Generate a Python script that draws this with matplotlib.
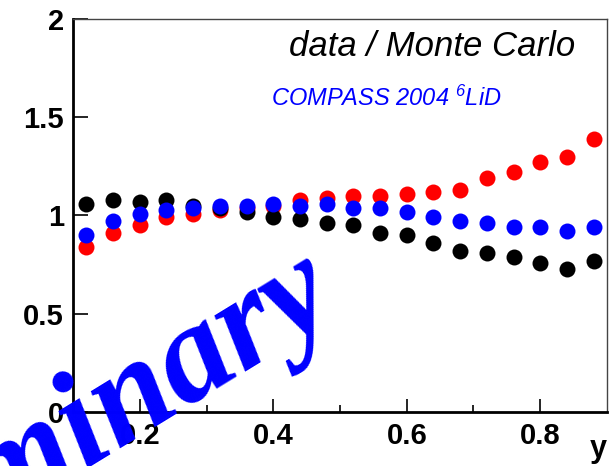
import numpy as np
import matplotlib.pyplot as plt

plt.rcParams['mathtext.fontset'] = 'custom'
plt.rcParams['mathtext.rm'] = 'Liberation Sans:italic'
plt.rcParams['mathtext.it'] = 'Liberation Sans:italic'

# bin centres in y
y_bins = [0.12, 0.16, 0.20, 0.24, 0.28, 0.32, 0.36, 0.40, 0.44, 0.48,
          0.52, 0.56, 0.60, 0.64, 0.68, 0.72, 0.76, 0.80, 0.84, 0.88]

# data / MC ratios
ratio_red = [0.84, 0.91, 0.95, 0.99, 1.01, 1.03, 1.04, 1.05, 1.08, 1.09,
             1.10, 1.10, 1.11, 1.12, 1.13, 1.19, 1.22, 1.27, 1.30, 1.39]
ratio_black = [1.06, 1.08, 1.07, 1.08, 1.05, 1.04, 1.02, 0.99, 0.98, 0.96,
               0.95, 0.91, 0.90, 0.86, 0.82, 0.81, 0.79, 0.76, 0.73, 0.77]
ratio_blue = [0.90, 0.97, 1.01, 1.03, 1.04, 1.05, 1.05, 1.06, 1.05, 1.06,
              1.04, 1.04, 1.02, 0.99, 0.97, 0.96, 0.94, 0.94, 0.92, 0.94]

fig = plt.figure(figsize=(6.10, 4.66), dpi=100)
ax = fig.add_axes([73 / 610, 54 / 466, 534 / 610, 393 / 466])

ms = 11.5
ax.plot(y_bins, ratio_red, 'o', color='#ff0000', ms=ms, mew=0)
ax.plot(y_bins, ratio_black, 'o', color='black', ms=ms, mew=0)
ax.plot(y_bins, ratio_blue, 'o', color='#0000ff', ms=ms, mew=0)

ax.set_xlim(0.1, 0.9)
ax.set_ylim(0, 2)
ax.set_xticks([0.2, 0.4, 0.6, 0.8])
ax.set_xticks([0.3, 0.5, 0.7], minor=True)
ax.set_yticks([0, 0.5, 1, 1.5, 2])
ax.set_xticklabels(['0.2', '0.4', '0.6', '0.8'])
ax.set_yticklabels(['0', '0.5', '1', '1.5', '2'])

ax.tick_params(axis='x', which='major', direction='in', length=9.5, width=1.2,
               pad=7, labelsize=21)
ax.tick_params(axis='x', which='minor', direction='in', length=5, width=1.2)
ax.tick_params(axis='y', which='major', direction='in', length=11, width=1.2,
               pad=6.5, labelsize=21)
for lab in ax.get_xticklabels() + ax.get_yticklabels():
    lab.set_fontfamily('Liberation Sans')
    lab.set_fontweight('bold')

for side in ['left', 'bottom']:
    ax.spines[side].set_linewidth(2)
    ax.spines[side].set_color('black')
for side in ['top', 'right']:
    ax.spines[side].set_linewidth(1)
    ax.spines[side].set_color('#444444')

ax.text(1.0, -0.055, 'y', transform=ax.transAxes, ha='right', va='top',
        fontsize=22, fontweight='bold', family='Liberation Sans')

ax.text(0.94, 0.905, 'data / Monte Carlo', transform=ax.transAxes, ha='right',
        va='baseline', fontsize=25, style='italic', family='Liberation Sans')
ax.text(0.37, 0.78, r'COMPASS 2004 $^{6}$LiD', transform=ax.transAxes,
        ha='left', va='baseline', fontsize=17, style='italic',
        family='Liberation Sans', color='#0000ff')

# big watermark, running off the left edge
fig.text(342 / 610, (466 - 313) / 466, 'Preliminary', ha='right',
         va='baseline', rotation=31.5, rotation_mode='anchor', fontsize=100,
         family='Liberation Serif', style='italic', fontweight='bold',
         color='#0000ff', zorder=10)

fig.savefig('out.png', dpi=100)
